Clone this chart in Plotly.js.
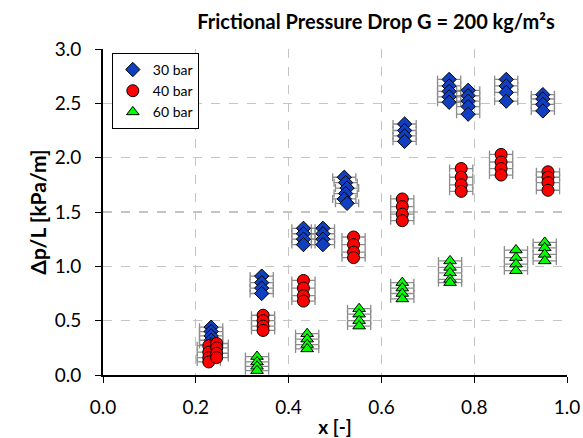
<!DOCTYPE html>
<html>
<head>
<meta charset="utf-8">
<script src="https://cdn.plot.ly/plotly-3.0.1.min.js"></script>
<style>html,body{margin:0;padding:0;background:#fff;}#chart{width:583px;height:438px;}</style>
</head>
<body>
<div id="chart"></div>
<script>
// 30 bar (blue diamonds)
const x30 = [0.233,0.233,0.233,0.233,0.233,
             0.342,0.342,0.342,0.342,
             0.432,0.432,0.432,0.432,
             0.474,0.474,0.474,0.474,
             0.520,0.523,0.526,0.523,0.520,0.526,
             0.650,0.650,0.650,0.650,
             0.746,0.746,0.746,0.746,0.746,
             0.787,0.787,0.787,0.787,0.787,
             0.869,0.869,0.869,0.869,
             0.948,0.948,0.948,0.948];
const y30 = [0.44,0.40,0.36,0.32,0.28,
             0.91,0.85,0.80,0.75,
             1.35,1.30,1.25,1.20,
             1.35,1.30,1.25,1.20,
             1.82,1.77,1.72,1.67,1.62,1.58,
             2.31,2.25,2.20,2.15,
             2.72,2.66,2.61,2.56,2.51,
             2.62,2.57,2.52,2.47,2.40,
             2.72,2.66,2.60,2.52,
             2.58,2.54,2.49,2.43];
// 40 bar (red circles)
const x40 = [0.228,0.228,0.228,0.228,
             0.245,0.245,0.245,0.245,
             0.345,0.345,0.345,0.345,
             0.432,0.432,0.432,0.432,
             0.540,0.540,0.540,0.540,
             0.645,0.645,0.645,0.645,
             0.772,0.772,0.772,0.772,
             0.858,0.858,0.858,0.858,
             0.959,0.959,0.959,0.959];
const y40 = [0.27,0.21,0.16,0.12,
             0.29,0.25,0.20,0.16,
             0.55,0.50,0.45,0.41,
             0.87,0.80,0.73,0.68,
             1.27,1.20,1.13,1.08,
             1.62,1.55,1.48,1.42,
             1.90,1.82,1.75,1.69,
             2.03,1.96,1.90,1.84,
             1.87,1.82,1.77,1.70];
// 60 bar (green triangles)
const x60 = [0.332,0.332,0.332,0.332,
             0.440,0.440,0.440,0.440,
             0.552,0.552,0.552,0.552,
             0.645,0.645,0.645,0.645,
             0.748,0.748,0.748,0.748,0.748,
             0.890,0.890,0.890,0.890,
             0.952,0.952,0.952,0.952];
const y60 = [0.17,0.12,0.08,0.04,
             0.38,0.33,0.28,0.24,
             0.61,0.56,0.50,0.45,
             0.85,0.80,0.75,0.70,
             1.05,0.99,0.94,0.88,0.85,
             1.15,1.08,1.02,0.96,
             1.22,1.17,1.11,1.05];
const xErr = 0.025;

const FONT = 'Lato, "Open Sans", sans-serif';
function err(){ return {type:'constant', value:xErr, color:'#8c8c8c', thickness:1.3, width:4}; }

const traces = [
  {x:x30, y:y30, name:'30 bar', type:'scatter', mode:'markers',
   marker:{symbol:'diamond', size:11, color:'#1040c0', line:{color:'#000', width:1}}, error_x:err()},
  {x:x40, y:y40, name:'40 bar', type:'scatter', mode:'markers',
   marker:{symbol:'circle', size:12, color:'#ff0000', line:{color:'#000', width:1}}, error_x:err()},
  {x:x60, y:y60, name:'60 bar', type:'scatter', mode:'markers',
   marker:{symbol:'triangle-up', size:11, color:'#00ff00', line:{color:'#000', width:1}}, error_x:err()}
];

const layout = {
  width:583, height:438,
  margin:{l:103, r:16, t:49, b:63},
  paper_bgcolor:'#fff', plot_bgcolor:'#fff',
  font:{family:FONT, color:'#000'},
  title:{text:'<b>Frictional Pressure Drop G = 200 kg/m²s</b>', font:{size:20, family:FONT, color:'#000'},
         x:0.645, xanchor:'center', y:0.95, yanchor:'middle'},
  xaxis:{range:[0,1], dtick:0.2, tickformat:'.1f', showline:true, linecolor:'#000', linewidth:2,
         ticks:'outside', ticklen:6, tickcolor:'#000', tickwidth:1, ticklabelstandoff:8,
         showgrid:true, gridcolor:'#c4c4c4', griddash:'dash', gridwidth:1.2, zeroline:false,
         tickfont:{size:19, family:FONT}, title:{text:'<b>x [-]</b>', font:{size:19, family:FONT}, standoff:4}},
  yaxis:{range:[0,3], dtick:0.5, tickformat:'.1f', showline:true, linecolor:'#000', linewidth:2,
         ticks:'outside', ticklen:6, tickcolor:'#000', tickwidth:1, ticklabelstandoff:10,
         showgrid:true, gridcolor:'#c4c4c4', griddash:'dash', gridwidth:1.2, zeroline:false,
         tickfont:{size:19, family:FONT}, title:{text:'<b>Δp/L [kPa/m]</b>', font:{size:21, family:FONT}, standoff:2}},
  showlegend:true,
  legend:{x:0.019, y:0.988, xanchor:'left', yanchor:'top', bgcolor:'#fff', bordercolor:'#000', borderwidth:1,
          font:{size:14, family:FONT}, itemwidth:20, tracegroupgap:0}
};

Plotly.newPlot('chart', traces, layout, {displayModeBar:false, staticPlot:true});
</script>
</body>
</html>
